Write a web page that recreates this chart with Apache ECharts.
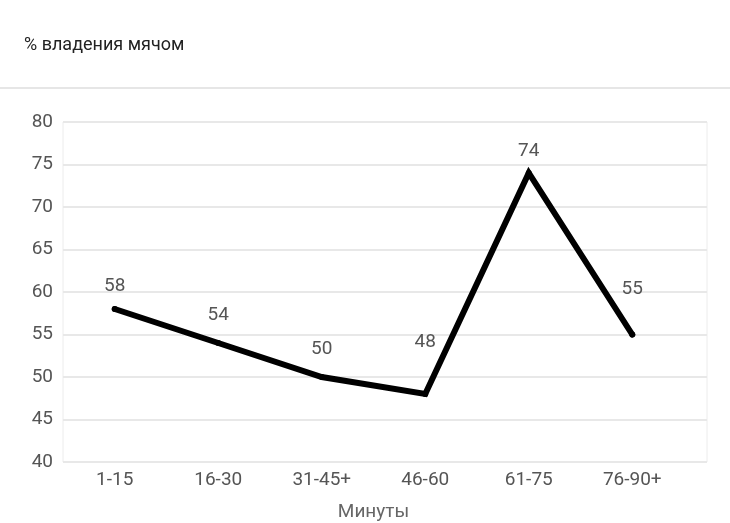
<!DOCTYPE html>
<html><head><meta charset="utf-8">
<script src="https://cdn.jsdelivr.net/npm/echarts@6/dist/echarts.min.js"></script>
<style>html,body{margin:0;padding:0;background:#fff}#c{width:730px;height:523px}</style>
</head><body><div id="c"></div>
<script>
const categories = ['1-15','16-30','31-45+','46-60','61-75','76-90+'];
const possession = [58,54,50,48,74,55];
const yTicks = [40,45,50,55,60,65,70,75,80];
const labelOffsets = [-23,-28,-28,-52,-22,-45];

const chart = echarts.init(document.getElementById('c'), null, {renderer:'canvas'});
const font = 'Roboto, "Noto Sans", sans-serif';
chart.setOption({
  animation:false,
  title:{text:'% владения мячом', left:19, top:31, textStyle:{fontFamily:font, fontSize:18, fontWeight:'normal', color:'#222'}},
  graphic:[{type:'line', shape:{x1:0,y1:88,x2:730,y2:88}, style:{stroke:'#e6e6e6', lineWidth:2}}],
  grid:[
    {left:63, right:23, top:122, bottom:61, show:true, borderColor:'#ececec', borderWidth:1, outerBoundsMode:'none', containLabel:false},
    {left:63, right:46, top:122, bottom:61, outerBoundsMode:'none', containLabel:false}
  ],
  xAxis:[
    {gridIndex:0, type:'value', min:0, max:1, show:false},
    {gridIndex:1, type:'category', data:categories, boundaryGap:true,
     axisLine:{show:false}, axisTick:{show:false},
     axisLabel:{fontFamily:font, fontSize:19, color:'#555', margin:9},
     name:'Минуты', nameLocation:'middle', nameGap:41,
     nameTextStyle:{fontFamily:font, fontSize:19, color:'#666'}}
  ],
  yAxis:[
    {gridIndex:0, type:'value', min:yTicks[0], max:yTicks[yTicks.length-1], interval:yTicks[1]-yTicks[0],
     axisLine:{show:false}, axisTick:{show:false},
     axisLabel:{fontFamily:font, fontSize:19, color:'#555', margin:10},
     splitLine:{lineStyle:{color:'#e8e8e8', width:2}}},
    {gridIndex:1, type:'value', min:yTicks[0], max:yTicks[yTicks.length-1], show:false, splitLine:{show:false}}
  ],
  series:[{
    type:'line', xAxisIndex:1, yAxisIndex:1,
    data: possession.map((v,i)=>({value:v, label:{offset:[0,labelOffsets[i]]}})),
    symbol:'circle', symbolSize:6, itemStyle:{color:'#000'},
    lineStyle:{color:'#000', width:6, cap:'round', join:'miter'},
    label:{show:true, position:'inside', fontFamily:font, fontSize:19, color:'#555'}
  }]
});
</script></body></html>
